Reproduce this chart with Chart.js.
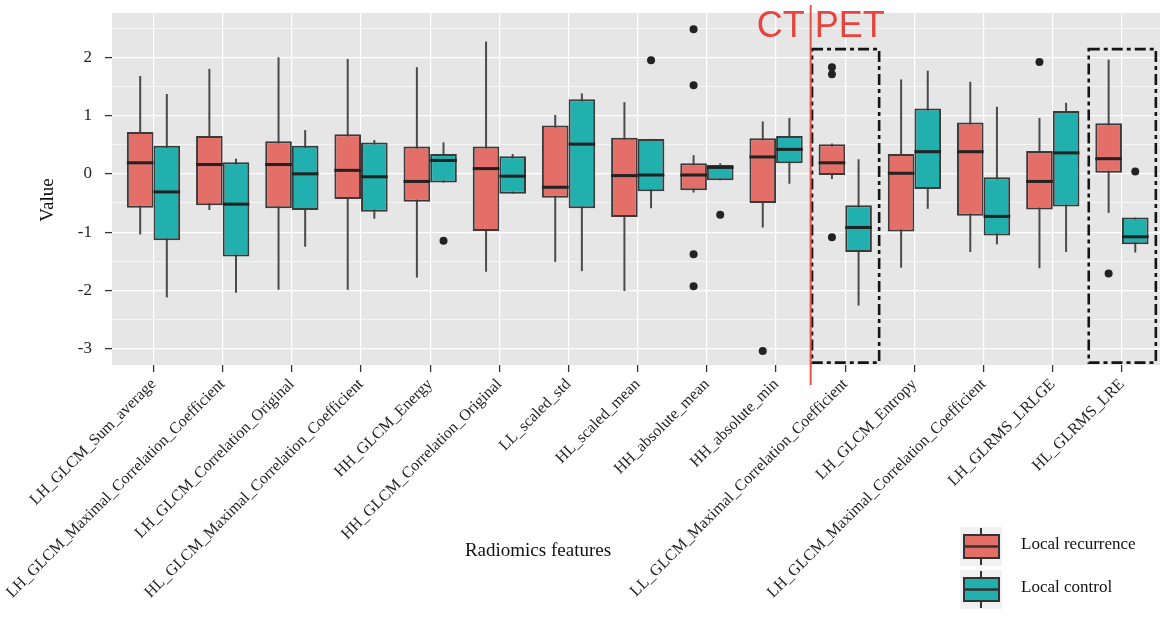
<!DOCTYPE html>
<html>
<head>
<meta charset="utf-8">
<script src="https://cdn.jsdelivr.net/npm/chart.js@4.4.1/dist/chart.umd.min.js"></script>
<style>
  html, body { margin: 0; padding: 0; background: #ffffff; }
  #wrap { width: 1164px; height: 618px; position: relative; }
</style>
</head>
<body>
<div id="wrap"><canvas id="c" width="1164" height="618"></canvas></div>
<script>
// ---------------- data ----------------
const categories = [
  'LH_GLCM_Sum_average',
  'LH_GLCM_Maximal_Correlation_Coefficient',
  'LH_GLCM_Correlation_Original',
  'HL_GLCM_Maximal_Correlation_Coefficient',
  'HH_GLCM_Energy',
  'HH_GLCM_Correlation_Original',
  'LL_scaled_std',
  'HL_scaled_mean',
  'HH_absolute_mean',
  'HH_absolute_min',
  'LL_GLCM_Maximal_Correlation_Coefficient',
  'LH_GLCM_Entropy',
  'LH_GLCM_Maximal_Correlation_Coefficient',
  'LH_GLRMS_LRLGE',
  'HL_GLRMS_LRE'
];
const seriesNames = ['Local recurrence', 'Local control'];

// Local recurrence
const recMin = [-1.04, -0.62, -1.99, -1.99, -1.78, -1.68, -1.51, -2.01, -0.32, -0.92, -0.09, -1.61, -1.34, -1.62, -0.67];
const recQ1  = [-0.58, -0.54, -0.59, -0.43, -0.48, -0.98, -0.41, -0.74, -0.28, -0.50, -0.02, -0.99, -0.72, -0.61,  0.02];
const recMed = [ 0.19,  0.16,  0.16,  0.06, -0.13,  0.09, -0.23, -0.03, -0.02,  0.29,  0.19,  0.01,  0.38, -0.13,  0.26];
const recQ3  = [ 0.72,  0.65,  0.56,  0.68,  0.47,  0.47,  0.83,  0.62,  0.18,  0.61,  0.51,  0.34,  0.88,  0.39,  0.87];
const recMax = [ 1.68,  1.80,  2.00,  1.97,  1.83,  2.27,  1.01,  1.23,  0.32,  0.90,  0.52,  1.62,  1.58,  0.96,  1.96];
const recOutIdx = [8, 8, 8, 8, 9, 10, 10, 10, 13, 14];
const recOutVal = [2.48, 1.52, -1.38, -1.93, -3.04, 1.83, 1.71, -1.09, 1.92, -1.71];

// Local control
const ctlMin = [-2.12, -2.04, -1.25, -0.77, -0.15, -0.34, -1.67, -0.59, -0.11, -0.17, -2.26, -0.60, -1.21, -1.34, -1.35];
const ctlQ1  = [-1.14, -1.42, -0.62, -0.65, -0.15, -0.34, -0.59, -0.30, -0.11,  0.18, -1.34, -0.26, -1.06, -0.56, -1.21];
const ctlMed = [-0.31, -0.52,  0.00, -0.05,  0.23, -0.04,  0.51, -0.02,  0.11,  0.42, -0.92,  0.38, -0.73,  0.36, -1.08];
const ctlQ3  = [ 0.48,  0.20,  0.48,  0.54,  0.34,  0.30,  1.28,  0.60,  0.15,  0.65, -0.54,  1.12, -0.06,  1.08, -0.75];
const ctlMax = [ 1.37,  0.26,  0.75,  0.58,  0.54,  0.34,  1.38,  0.60,  0.18,  0.96,  0.25,  1.77,  1.15,  1.22, -0.75];
const ctlOutIdx = [4, 7, 8, 14];
const ctlOutVal = [-1.15, 1.95, -0.70, 0.04];

const yTickValues = [-3, -2.5, -2, -1.5, -1, -0.5, 0, 0.5, 1, 1.5, 2, 2.5];
const highlightIdx = [10, 14];     // dashed boxes (selected features)
const dividerAt = 9.5;             // CT | PET split

// ---------------- styles ----------------
const FILL = ['#E46F69', '#21B0AD'];
const EDGE = '#3a3a3a';
const MED = '#222222';
const WHISK = '#4a4a4a';
const SERIF = '"Liberation Serif", "DejaVu Serif", serif';
const CAT_PCT = 0.77;
const groupOffset = CAT_PCT / 4;

function boxData(lo, hi) { return categories.map((_, i) => ({ x: i, y: [lo[i], hi[i]] })); }
function medData(m) { return categories.map((_, i) => ({ x: i, y: [m[i] - 0.026, m[i] + 0.026] })); }
function outData(idx, val, off) { return idx.map((k, j) => ({ x: k + off, y: val[j] })); }

const groups = [
  { stack: 'rec', min: recMin, q1: recQ1, med: recMed, q3: recQ3, max: recMax, oi: recOutIdx, ov: recOutVal, off: -groupOffset },
  { stack: 'ctl', min: ctlMin, q1: ctlQ1, med: ctlMed, q3: ctlQ3, max: ctlMax, oi: ctlOutIdx, ov: ctlOutVal, off: groupOffset }
];

const datasets = [];
groups.forEach((g, k) => datasets.push({
  type: 'bar', label: seriesNames[k] + ' median', stack: g.stack, data: medData(g.med),
  backgroundColor: MED, borderWidth: 0, barPercentage: 1, categoryPercentage: CAT_PCT
}));
groups.forEach((g, k) => datasets.push({
  type: 'bar', label: seriesNames[k], stack: g.stack, data: boxData(g.q1, g.q3),
  backgroundColor: FILL[k], borderColor: EDGE, borderWidth: 2, borderSkipped: false,
  barPercentage: 1, categoryPercentage: CAT_PCT
}));
groups.forEach((g, k) => datasets.push({
  type: 'bar', label: seriesNames[k] + ' whisker', stack: g.stack, data: boxData(g.min, g.max),
  backgroundColor: WHISK, borderWidth: 0, barPercentage: 0.075, categoryPercentage: CAT_PCT
}));
groups.forEach((g, k) => datasets.push({
  type: 'scatter', label: seriesNames[k] + ' outliers', data: outData(g.oi, g.ov, g.off),
  pointRadius: 4, pointBackgroundColor: '#222', pointBorderWidth: 0, pointHoverRadius: 4
}));

// ---------------- plugins ----------------
const panelPlugin = {
  id: 'panel',
  beforeDraw(chart) {
    const { ctx, chartArea: a } = chart;
    ctx.save();
    ctx.fillStyle = '#E6E6E6';
    ctx.fillRect(a.left, a.top, a.right - a.left, a.bottom - a.top);
    ctx.restore();
  }
};

const overlayPlugin = {
  id: 'overlay',
  afterDraw(chart) {
    const { ctx, scales: { x, y } } = chart;
    ctx.save();
    // dashed highlight boxes
    ctx.strokeStyle = '#151515';
    ctx.lineWidth = 2.6;
    ctx.setLineDash([11, 4, 4, 4]);
    highlightIdx.forEach(i => {
      const l = x.getPixelForValue(i - 0.48), r = x.getPixelForValue(i + 0.49);
      const t = y.getPixelForValue(2.14), b = y.getPixelForValue(-3.24);
      ctx.strokeRect(l, t, r - l, b - t);
    });
    ctx.setLineDash([]);
    // CT | PET divider
    const xd = x.getPixelForValue(dividerAt);
    ctx.strokeStyle = '#E8524A';
    ctx.lineWidth = 2;
    ctx.beginPath(); ctx.moveTo(xd, 5); ctx.lineTo(xd, 385); ctx.stroke();
    ctx.fillStyle = '#E8443C';
    ctx.font = '36px "Liberation Sans", Arial, sans-serif';
    ctx.textBaseline = 'alphabetic';
    ctx.textAlign = 'right'; ctx.fillText('CT', xd - 6, 37);
    ctx.textAlign = 'left'; ctx.fillText('PET', xd + 4, 37);
    // axis titles
    ctx.fillStyle = '#111';
    ctx.font = '19px ' + SERIF;
    ctx.textAlign = 'center'; ctx.textBaseline = 'middle';
    ctx.fillText('Radiomics features', 538, 551);
    ctx.save();
    ctx.translate(48, 200); ctx.rotate(-Math.PI / 2);
    ctx.fillText('Value', 0, 0);
    ctx.restore();
    // legend
    seriesNames.forEach((name, k) => {
      const top = 527 + k * 43;
      ctx.fillStyle = '#F1F1F1';
      ctx.fillRect(960, top, 42, 39);
      ctx.strokeStyle = '#333'; ctx.lineWidth = 2;
      ctx.beginPath(); ctx.moveTo(981, top + 1); ctx.lineTo(981, top + 38); ctx.stroke();
      ctx.fillStyle = FILL[k];
      ctx.fillRect(964, top + 8, 35, 23);
      ctx.strokeRect(964, top + 8, 35, 23);
      ctx.lineWidth = 2.6;
      ctx.beginPath(); ctx.moveTo(964, top + 19.5); ctx.lineTo(999, top + 19.5); ctx.stroke();
      ctx.fillStyle = '#111';
      ctx.font = '17px ' + SERIF;
      ctx.textAlign = 'left'; ctx.textBaseline = 'middle';
      ctx.fillText(name, 1021, top + 18);
    });
    ctx.restore();
  }
};

// ---------------- chart ----------------
new Chart(document.getElementById('c'), {
  type: 'bar',
  data: { datasets },
  plugins: [panelPlugin, overlayPlugin],
  options: {
    responsive: false,
    animation: false,
    devicePixelRatio: 1,
    layout: { padding: { top: 13, left: 0, right: 0, bottom: 0 } },
    plugins: { legend: { display: false }, tooltip: { enabled: false } },
    scales: {
      x: {
        type: 'linear', min: -0.6, max: 14.55, stacked: true, offset: false,
        afterBuildTicks: (axis) => { axis.ticks = categories.map((_, i) => ({ value: i })); },
        afterFit: (axis) => { axis.height = 253; axis.paddingRight = 0; },
        grid: { color: '#FFFFFF', lineWidth: 1.2, offset: false, tickColor: '#333', tickLength: 7, tickWidth: 1.3 },
        border: { display: false },
        ticks: {
          autoSkip: false, minRotation: 45, maxRotation: 45, padding: 3,
          color: '#222', font: { family: SERIF, size: 16 },
          callback: (v) => categories[v] ?? ''
        }
      },
      y: {
        type: 'linear', min: -3.28, max: 2.76, stacked: false,
        afterBuildTicks: (axis) => { axis.ticks = yTickValues.map(v => ({ value: v })); },
        afterFit: (axis) => { axis.width = 112; axis.paddingTop = 0; axis.paddingBottom = 0; },
        grid: {
          color: '#FFFFFF',
          lineWidth: (c) => (c.tick && Number.isInteger(c.tick.value)) ? 1.2 : 0.6,
          tickColor: (c) => (c.tick && Number.isInteger(c.tick.value)) ? '#333' : 'rgba(0,0,0,0)',
          tickLength: 7, tickWidth: 1.3
        },
        border: { display: false },
        ticks: {
          padding: 13, color: '#222', font: { family: SERIF, size: 17 },
          callback: (v) => Number.isInteger(v) ? String(v) : ''
        }
      }
    }
  }
});
</script>
</body>
</html>
